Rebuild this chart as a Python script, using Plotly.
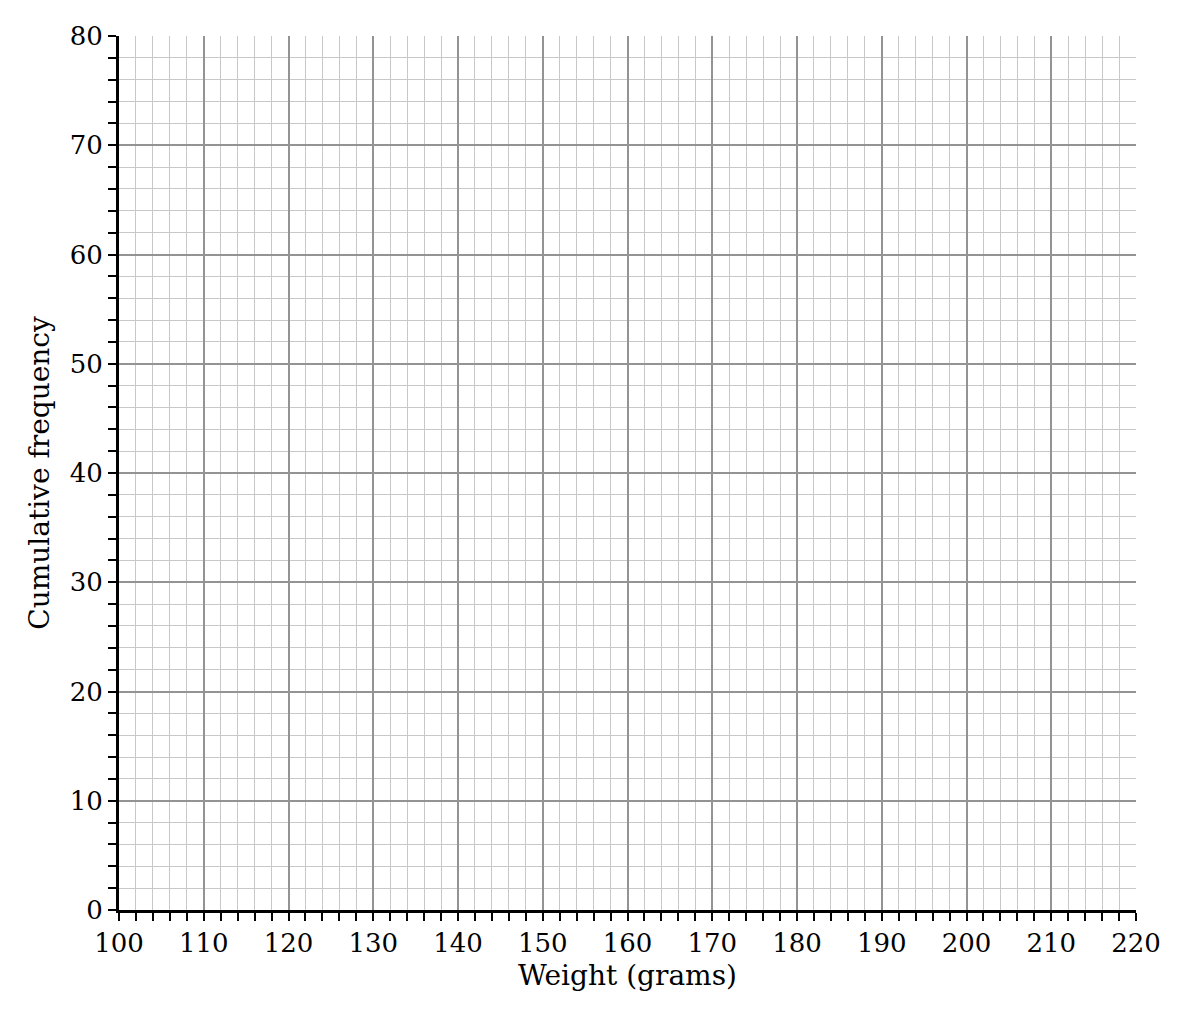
import plotly.graph_objs as go

# axis ranges and tick labels
x_range = [100, 220]
y_range = [0, 80]
x_ticks = [100, 110, 120, 130, 140, 150, 160, 170, 180, 190, 200, 210, 220]
y_ticks = [0, 10, 20, 30, 40, 50, 60, 70, 80]

x_title = 'Weight (grams)'
y_title = 'Cumulative frequency'

font_family = 'DejaVu Serif'
font_size = 26
title_size = 28

# empty trace so the axes are drawn
fig = go.Figure(data=[go.Scatter(x=[], y=[], mode='markers', showlegend=False)])

axis_common = dict(
    showline=True,
    linewidth=3,
    linecolor='black',
    ticks='outside',
    ticklen=8,
    tickwidth=1.5,
    tickcolor='black',
    showgrid=True,
    gridcolor='#939393',
    gridwidth=2,
    zeroline=False,
    tickfont=dict(family=font_family, size=font_size, color='black'),
    minor=dict(dtick=2, showgrid=True, gridcolor='#c8c8c8', gridwidth=1,
               ticks='outside', ticklen=8, tickwidth=1.5, tickcolor='black'),
    fixedrange=True,
)

fig.update_layout(
    width=1190,
    height=1020,
    margin=dict(l=111, r=62, t=28, b=118),
    paper_bgcolor='white',
    plot_bgcolor='white',
    font=dict(family=font_family, color='black'),
    xaxis=dict(
        range=x_range,
        tickvals=x_ticks,
        ticktext=[str(v) for v in x_ticks],
        title=dict(text=x_title, font=dict(family=font_family, size=title_size), standoff=9),
        **axis_common
    ),
    yaxis=dict(
        range=y_range,
        tickvals=y_ticks,
        ticktext=[str(v) for v in y_ticks],
        title=dict(text=y_title, font=dict(family=font_family, size=title_size), standoff=12),
        **axis_common
    ),
)

fig.write_html('out.html')
